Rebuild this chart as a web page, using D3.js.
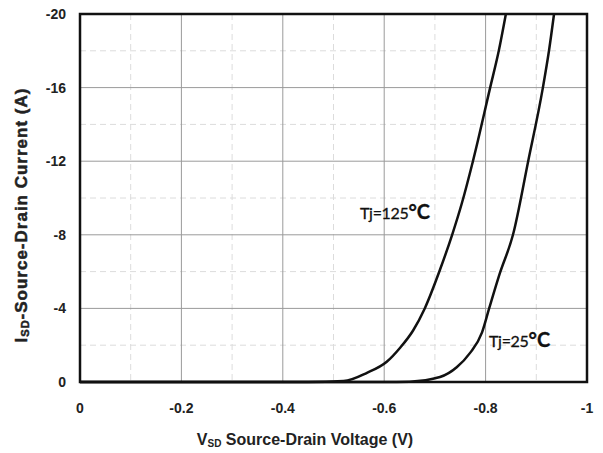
<!DOCTYPE html>
<html>
<head>
<meta charset="utf-8">
<script src="https://cdn.jsdelivr.net/npm/d3@7"></script>
<style>
  body { margin: 0; background: #fff; }
  svg { display: block; }
</style>
</head>
<body>
<svg id="chart" width="603" height="453"></svg>
<script>
// Datos
const xTicks = [0, -0.2, -0.4, -0.6, -0.8, -1];
const yTicks = [0, -4, -8, -12, -16, -20];

const v125 = [0, -0.45, -0.52, -0.566, -0.605, -0.631, -0.657, -0.68, -0.71, -0.734, -0.753, -0.775, -0.809, -0.826, -0.84];
const i125 = [0, 0, -0.05, -0.5, -1.1, -1.85, -2.8, -4.0, -6.1, -8.0, -9.7, -12.0, -16, -18, -20];

const v25 = [0, -0.6, -0.65, -0.71, -0.743, -0.769, -0.793, -0.807, -0.828, -0.854, -0.884, -0.913, -0.925, -0.935];
const i25 = [0, 0, -0.02, -0.27, -0.8, -1.57, -2.7, -4.0, -5.9, -8.0, -12.0, -16, -18, -20];

const svg = d3.select('#chart');
const margin = { top: 14, right: 16, bottom: 71, left: 80 };
const width = +svg.attr('width') - margin.left - margin.right;
const height = +svg.attr('height') - margin.top - margin.bottom;

const xScale = d3.scaleLinear()
    .domain([0, -1])
    .range([margin.left, margin.left + width]);

const yScale = d3.scaleLinear()
    .domain([0, -20])
    .range([margin.top + height, margin.top]);

// Rejilla menor (discontinua)
const xMinor = d3.range(1, 10, 2).map(d => -d / 10);
const yMinor = d3.range(2, 20, 4).map(d => -d);

svg.append('g').selectAll('line')
    .data(xMinor)
    .join('line')
    .attr('x1', d => xScale(d)).attr('x2', d => xScale(d))
    .attr('y1', margin.top).attr('y2', margin.top + height)
    .attr('stroke', '#dcdcdc').attr('stroke-width', 1)
    .attr('stroke-dasharray', '6,4');

svg.append('g').selectAll('line')
    .data(yMinor)
    .join('line')
    .attr('x1', margin.left).attr('x2', margin.left + width)
    .attr('y1', d => yScale(d)).attr('y2', d => yScale(d))
    .attr('stroke', '#dcdcdc').attr('stroke-width', 1)
    .attr('stroke-dasharray', '6,4');

// Rejilla principal
svg.append('g').selectAll('line')
    .data(xTicks.slice(1, -1))
    .join('line')
    .attr('x1', d => xScale(d)).attr('x2', d => xScale(d))
    .attr('y1', margin.top).attr('y2', margin.top + height)
    .attr('stroke', '#9a9a9a').attr('stroke-width', 1);

svg.append('g').selectAll('line')
    .data(yTicks.slice(1, -1))
    .join('line')
    .attr('x1', margin.left).attr('x2', margin.left + width)
    .attr('y1', d => yScale(d)).attr('y2', d => yScale(d))
    .attr('stroke', '#9a9a9a').attr('stroke-width', 1);

// Marco
svg.append('rect')
    .attr('x', margin.left).attr('y', margin.top)
    .attr('width', width).attr('height', height)
    .attr('fill', 'none')
    .attr('stroke', '#111')
    .attr('stroke-width', 2.5);

// Etiquetas de los ejes
svg.append('g').selectAll('text')
    .data(xTicks)
    .join('text')
    .attr('x', d => xScale(d))
    .attr('y', margin.top + height + 31)
    .attr('text-anchor', 'middle')
    .attr('font-family', 'Liberation Sans, Arial, sans-serif')
    .attr('font-weight', 'bold')
    .attr('font-size', 14)
    .attr('fill', '#222')
    .text(d => String(d));

svg.append('g').selectAll('text')
    .data(yTicks)
    .join('text')
    .attr('x', margin.left - 14)
    .attr('y', d => yScale(d) + 5)
    .attr('text-anchor', 'end')
    .attr('font-family', 'Liberation Sans, Arial, sans-serif')
    .attr('font-weight', 'bold')
    .attr('font-size', 14)
    .attr('fill', '#222')
    .text(d => String(d));

// Curvas
const line = d3.line()
    .x(d => xScale(d[0]))
    .y(d => yScale(d[1]))
    .curve(d3.curveMonotoneX);

const curves = [d3.zip(v125, i125), d3.zip(v25, i25)];

svg.append('g').selectAll('path')
    .data(curves)
    .join('path')
    .attr('fill', 'none')
    .attr('stroke', '#111')
    .attr('stroke-width', 2.5)
    .attr('d', line);

// Anotaciones
function tjLabel(x, y, temp) {
    const t = svg.append('text')
        .attr('x', x).attr('y', y)
        .attr('font-family', 'Lato, Open Sans, sans-serif')
        .attr('font-size', 16)
        .attr('fill', '#111')
        .attr('stroke', '#111')
        .attr('stroke-width', 0.3);
    t.append('tspan').attr('letter-spacing', -0.3).text('Tj=' + temp);
    t.append('tspan').attr('font-size', 20).attr('font-weight', 'bold').text('°C');
}
tjLabel(360, 219, '125');
tjLabel(489, 347, '25');

// Titulos
const xt = svg.append('text')
    .attr('x', 305)
    .attr('y', 445)
    .attr('text-anchor', 'middle')
    .attr('font-family', 'Liberation Sans, Arial, sans-serif')
    .attr('font-weight', 'bold')
    .attr('font-size', 16)
    .attr('fill', '#222');
xt.append('tspan').text('V');
xt.append('tspan').attr('font-size', 10).attr('dy', 2).text('SD');
xt.append('tspan').attr('dy', -2).text(' Source-Drain Voltage (V)');

const yt = svg.append('text')
    .attr('transform', 'translate(27,215) rotate(-90)')
    .attr('text-anchor', 'middle')
    .attr('font-family', 'Liberation Sans, Arial, sans-serif')
    .attr('font-weight', 'bold')
    .attr('font-size', 17)
    .attr('letter-spacing', 1)
    .attr('fill', '#222')
    .attr('stroke', '#222')
    .attr('stroke-width', 0.5);
yt.append('tspan').text('I');
yt.append('tspan').attr('font-size', 11).attr('dy', 2).text('SD');
yt.append('tspan').attr('dy', -2).text('-Source-Drain Current  (A)');
</script>
</body>
</html>
